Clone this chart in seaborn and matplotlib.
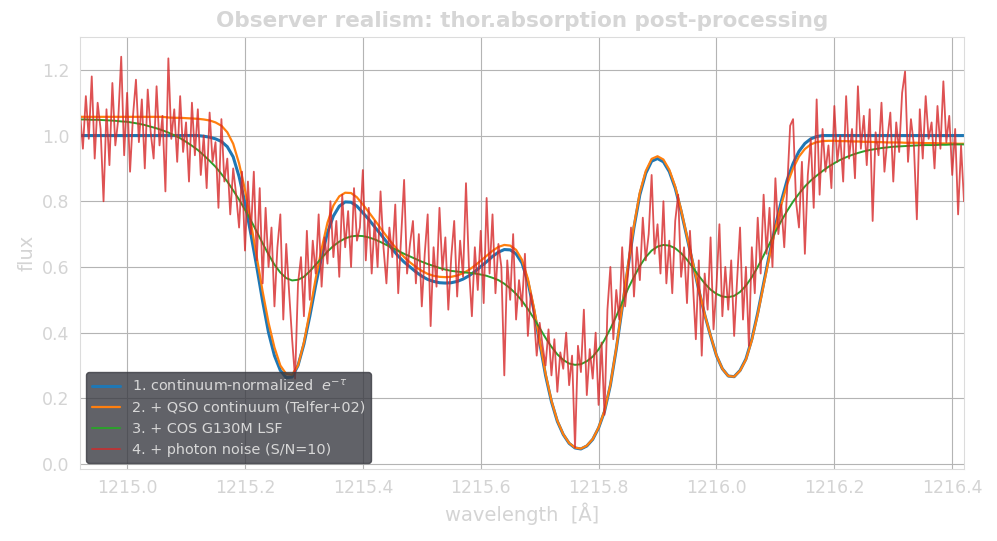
import numpy as np
import matplotlib
matplotlib.use("Agg")
import matplotlib.pyplot as plt
from matplotlib.ticker import FormatStrFormatter
import seaborn as sns

# wavelength grid of the smooth models (0.01 A steps)
wave = np.round(np.arange(0, 151) * 0.01 + 1214.92, 3)

# 1. continuum-normalized e^-tau
flux_norm = [1.000] * 21 + [
    0.998, 0.995, 0.990, 0.982, 0.966, 0.935, 0.875, 0.795, 0.700, 0.600,
    0.495, 0.400, 0.330, 0.285, 0.263, 0.265, 0.300, 0.365, 0.450, 0.545,
    0.630, 0.705, 0.755, 0.785, 0.798, 0.797, 0.785, 0.765, 0.745, 0.722,
    0.700, 0.677, 0.655, 0.633, 0.615, 0.600, 0.585, 0.572, 0.562, 0.556,
    0.552, 0.551, 0.552, 0.556, 0.563, 0.573, 0.586, 0.601, 0.616, 0.632,
    0.645, 0.653, 0.652, 0.640, 0.612, 0.555, 0.470, 0.370, 0.270, 0.190,
    0.130, 0.090, 0.063, 0.049, 0.046, 0.055, 0.075, 0.110, 0.160, 0.240,
    0.350, 0.475, 0.600, 0.720, 0.820, 0.885, 0.922, 0.930, 0.920, 0.890,
    0.840, 0.770, 0.690, 0.610, 0.530, 0.455, 0.390, 0.330, 0.290, 0.268,
    0.266, 0.285, 0.320, 0.380, 0.460, 0.550, 0.640, 0.725, 0.800, 0.865,
    0.915, 0.952, 0.976, 0.990, 0.997] + [1.000] * 25

# 2. with QSO continuum
flux_cont = [1.057] * 15 + [
    1.055, 1.054, 1.054, 1.053, 1.052, 1.051, 1.049, 1.046, 1.040, 1.030,
    1.010, 0.975, 0.915, 0.835, 0.735, 0.630, 0.525, 0.430, 0.355, 0.300,
    0.274, 0.272, 0.300, 0.370, 0.465, 0.565, 0.655, 0.735, 0.787, 0.815,
    0.826, 0.825, 0.812, 0.790, 0.767, 0.743, 0.718, 0.694, 0.671, 0.650,
    0.630, 0.614, 0.600, 0.588, 0.579, 0.573, 0.570, 0.569, 0.570, 0.574,
    0.581, 0.591, 0.604, 0.619, 0.634, 0.649, 0.661, 0.667, 0.665, 0.652,
    0.622, 0.564, 0.478, 0.376, 0.275, 0.193, 0.132, 0.091, 0.064, 0.050,
    0.047, 0.056, 0.076, 0.111, 0.162, 0.242, 0.353, 0.479, 0.605, 0.726,
    0.827, 0.892, 0.929, 0.937, 0.927, 0.896, 0.845, 0.774, 0.693, 0.612,
    0.532, 0.456, 0.391, 0.331, 0.290, 0.268, 0.266, 0.284, 0.318, 0.377,
    0.456, 0.544, 0.633, 0.716, 0.789, 0.852, 0.900, 0.936, 0.959, 0.973,
    0.980, 0.983, 0.984, 0.984, 0.983, 0.983, 0.982, 0.982, 0.981, 0.981,
    0.980, 0.980, 0.979, 0.979, 0.979, 0.978, 0.978, 0.978, 0.977, 0.977,
    0.977, 0.976, 0.976, 0.976, 0.975, 0.975]

# 3. convolved with COS G130M LSF
flux_lsf = [
    1.049, 1.049, 1.048, 1.048, 1.047, 1.046, 1.045, 1.043, 1.042, 1.039,
    1.036, 1.032, 1.027, 1.022, 1.016, 1.009, 1.001, 0.992, 0.981, 0.969,
    0.956, 0.940, 0.923, 0.905, 0.883, 0.860, 0.833, 0.805, 0.774, 0.742,
    0.707, 0.672, 0.638, 0.607, 0.583, 0.566, 0.559, 0.561, 0.570, 0.587,
    0.607, 0.627, 0.647, 0.664, 0.677, 0.687, 0.693, 0.695, 0.694, 0.690,
    0.684, 0.676, 0.667, 0.658, 0.649, 0.640, 0.632, 0.624, 0.616, 0.609,
    0.603, 0.597, 0.592, 0.588, 0.586, 0.584, 0.582, 0.580, 0.577, 0.573,
    0.567, 0.560, 0.549, 0.535, 0.518, 0.497, 0.472, 0.444, 0.414, 0.384,
    0.357, 0.334, 0.317, 0.306, 0.302, 0.304, 0.313, 0.327, 0.349, 0.378,
    0.412, 0.450, 0.492, 0.534, 0.570, 0.603, 0.630, 0.650, 0.662, 0.667,
    0.665, 0.657, 0.642, 0.622, 0.598, 0.573, 0.550, 0.531, 0.518, 0.510,
    0.508, 0.512, 0.524, 0.543, 0.569, 0.600, 0.635, 0.671, 0.707, 0.740,
    0.771, 0.799, 0.823, 0.845, 0.863, 0.878, 0.892, 0.905, 0.916, 0.926,
    0.934, 0.941, 0.947, 0.952, 0.956, 0.959, 0.962, 0.964, 0.966, 0.967,
    0.968, 0.969, 0.970, 0.971, 0.971, 0.971, 0.972, 0.972, 0.973, 0.973,
    0.973]

# 4. noisy spectrum, finer pixels (0.005 A)
wave_pix = np.round(np.arange(0, 301) * 0.005 + 1214.92, 4)
flux_noisy = [
    1.07, 0.96, 1.12, 0.99, 1.18, 0.93, 1.10, 1.02, 0.80, 1.08,
    0.91, 1.16, 0.97, 1.05, 1.24, 0.94, 1.13, 0.89, 1.06, 1.17,
    0.98, 1.11, 0.90, 1.14, 1.01, 0.93, 1.15, 0.97, 1.06, 0.83,
    1.235, 0.99, 1.08, 0.92, 1.12, 0.95, 1.04, 0.86, 1.10, 0.94,
    1.08, 0.88, 1.00, 0.84, 1.07, 0.92, 0.98, 0.78, 1.05, 0.86,
    0.93, 0.76, 0.90, 0.82, 0.72, 0.89, 0.65, 0.86, 0.70, 0.89,
    0.62, 0.84, 0.55, 0.78, 0.60, 0.72, 0.48, 0.66, 0.76, 0.44,
    0.67, 0.52, 0.38, 0.26, 0.55, 0.63, 0.45, 0.71, 0.50, 0.68,
    0.58, 0.76, 0.54, 0.69, 0.61, 0.80, 0.63, 0.74, 0.57, 0.82,
    0.66, 0.77, 0.60, 0.84, 0.68, 0.72, 0.895, 0.62, 0.78, 0.58,
    0.74, 0.60, 0.83, 0.66, 0.55, 0.72, 0.63, 0.79, 0.52, 0.69,
    0.865, 0.58, 0.67, 0.74, 0.55, 0.70, 0.48, 0.64, 0.76, 0.42,
    0.66, 0.54, 0.78, 0.59, 0.69, 0.47, 0.63, 0.74, 0.51, 0.68,
    0.57, 0.855, 0.60, 0.45, 0.66, 0.53, 0.71, 0.49, 0.81, 0.58,
    0.76, 0.52, 0.67, 0.60, 0.27, 0.62, 0.50, 0.70, 0.44, 0.56,
    0.48, 0.64, 0.39, 0.52, 0.46, 0.33, 0.43, 0.36, 0.30, 0.41,
    0.27, 0.38, 0.22, 0.34, 0.29, 0.40, 0.24, 0.33, 0.05, 0.36,
    0.28, 0.47, 0.21, 0.35, 0.26, 0.40, 0.18, 0.37, 0.15, 0.47,
    0.60, 0.38, 0.53, 0.44, 0.66, 0.48, 0.58, 0.72, 0.51, 0.66,
    0.56, 0.75, 0.62, 0.70, 0.88, 0.64, 0.73, 0.58, 0.80, 0.55,
    0.68, 0.52, 0.74, 0.82, 0.57, 0.66, 0.49, 0.71, 0.55, 0.38,
    0.62, 0.33, 0.58, 0.47, 0.69, 0.41, 0.54, 0.73, 0.45, 0.60,
    0.47, 0.62, 0.39, 0.56, 0.72, 0.44, 0.60, 0.36, 0.66, 0.52,
    0.75, 0.58, 0.82, 0.64, 0.78, 0.60, 0.87, 0.70, 0.79, 0.66,
    0.84, 1.03, 1.05, 0.80, 0.72, 0.92, 0.64, 0.88, 0.99, 0.78,
    1.11, 0.82, 1.02, 0.89, 0.97, 0.84, 1.09, 0.92, 1.00, 0.86,
    1.12, 0.93, 1.02, 0.87, 1.15, 0.96, 1.06, 0.91, 1.08, 0.74,
    1.01, 0.94, 1.10, 0.89, 0.99, 1.07, 0.86, 1.04, 0.95, 1.13,
    1.195, 0.92, 1.05, 0.97, 0.745, 1.08, 0.93, 1.12, 0.99, 1.04,
    0.90, 1.09, 0.96, 1.165, 0.98, 1.06, 0.88, 1.02, 0.76, 0.97,
    0.80]

labels = [
    "1. continuum-normalized  $e^{-\\tau}$",
    "2. + QSO continuum (Telfer+02)",
    "3. + COS G130M LSF",
    "4. + photon noise (S/N=10)",
]

txt = "#d4d4d4"
sns.set_style("whitegrid", {
    "grid.color": "#b4b4b4",
    "axes.edgecolor": "#dcdcdc",
    "text.color": txt,
    "axes.labelcolor": txt,
    "xtick.color": txt,
    "ytick.color": txt,
})
plt.rcParams["font.family"] = ["DejaVu Sans"]

fig = plt.figure(figsize=(9.97, 5.41), dpi=100)
ax = fig.add_axes([0.0802, 0.1331, 0.8867, 0.7985])

sns.lineplot(x=wave, y=flux_norm, ax=ax, color="#1f77b4", lw=2.2, label=labels[0])
sns.lineplot(x=wave, y=flux_cont, ax=ax, color="#ff7f0e", lw=1.6, label=labels[1])
sns.lineplot(x=wave, y=flux_lsf, ax=ax, color="#2ca02c", lw=1.4, label=labels[2])
sns.lineplot(x=wave_pix, y=flux_noisy, ax=ax, color="#d62728", lw=1.3, alpha=0.8,
             label=labels[3])

ax.set_xlim(1214.92, 1216.42)
ax.set_ylim(-0.015, 1.3)
ax.set_xticks(np.round(np.arange(1215.0, 1216.41, 0.2), 1))
ax.set_yticks(np.round(np.arange(0.0, 1.21, 0.2), 1))
ax.xaxis.set_major_formatter(FormatStrFormatter("%.1f"))
ax.yaxis.set_major_formatter(FormatStrFormatter("%.1f"))
ax.tick_params(labelsize=12.5, length=4, color="#dcdcdc")
ax.grid(True, color="#b4b4b4", lw=0.8)
ax.set_xlabel("wavelength  [Å]", fontsize=14)
ax.set_ylabel("flux", fontsize=14)
ax.set_title("Observer realism: thor.absorption post-processing",
             fontsize=15.5, fontweight="bold", color="#d6d6d6", pad=7)

leg = ax.legend(loc="lower left", fontsize=10.4, frameon=True, fancybox=True,
                borderaxespad=0.4)
leg.get_frame().set_facecolor("#3a3b42")
leg.get_frame().set_edgecolor("#3a3b42")
leg.get_frame().set_alpha(0.8)
for t in leg.get_texts():
    t.set_color("#d8d8d8")

fig.savefig("out.png", dpi=100)
